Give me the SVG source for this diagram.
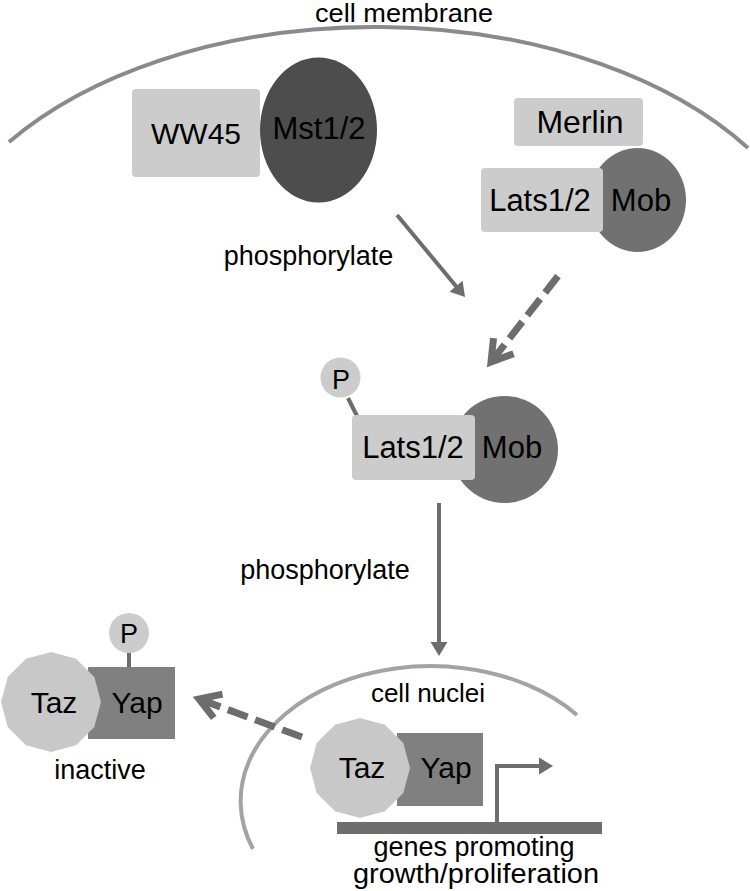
<svg xmlns="http://www.w3.org/2000/svg" xmlns:xlink="http://www.w3.org/1999/xlink" width="750" height="891" viewBox="0 0 750 891">
<style>
  text { font-family: "Liberation Sans", Arial, sans-serif; fill: #000; text-anchor: middle; }
  .big { font-size: 31px; }
  .lbl { font-size: 27px; }
  .light { fill: #cccccc; }
  .mst { fill: #4d4d4d; }
  .mob { fill: #717171; }
  .yap { fill: #808080; }
  .taz { fill: #c8c8c8; }
  .stick { stroke: #6d6d6d; stroke-width: 4; fill: none; }
  .solid { stroke: #6d6d6d; stroke-width: 4; fill: none; marker-end: url(#ah); }
  .dashed { stroke: #6d6d6d; stroke-width: 7; fill: none; stroke-dasharray: 21 8; marker-end: url(#chev); }
  .membrane { stroke: #8a8a8a; stroke-width: 4; fill: none; }
  .nucleus { stroke: #a3a3a3; stroke-width: 4; fill: none; }
</style>
<defs>
  <marker id="ah" markerUnits="userSpaceOnUse" viewBox="0 0 14 17" markerWidth="14" markerHeight="17" refX="1" refY="8.5" orient="auto" overflow="visible">
    <path d="M0,0 L14,8.5 L0,17 z" fill="#6d6d6d"/>
  </marker>
  <marker id="chev" markerUnits="userSpaceOnUse" viewBox="0 0 32 40" markerWidth="32" markerHeight="40" refX="24.4" refY="20" orient="auto" overflow="visible">
    <path d="M4,7.3 L24.4,20 L4,32.7" fill="none" stroke="#6d6d6d" stroke-width="7"/>
  </marker>
  <polygon id="dodeca" points="50,0 43.3,25 25,43.3 0,50 -25,43.3 -43.3,25 -50,0 -43.3,-25 -25,-43.3 0,-50 25,-43.3 43.3,-25"/>
</defs>

<g id="cell-membrane">
  <path class="membrane" d="M9,142 A450,275 0 0 1 748,148"/>
  <text x="404" y="22" style="font-size:25px" textLength="178" lengthAdjust="spacingAndGlyphs">cell membrane</text>
</g>

<g id="ww45-mst">
  <rect class="light" x="132" y="89" width="128" height="88" rx="4"/>
  <ellipse class="mst" cx="318.5" cy="130" rx="58.5" ry="72.5"/>
  <text class="big" x="196" y="144" style="font-size:30px">WW45</text>
  <text class="big" x="319" y="139">Mst1/2</text>
</g>

<g id="merlin">
  <rect class="light" x="514" y="98" width="129" height="48" rx="4"/>
  <text class="big" x="580" y="133" style="font-size:32px">Merlin</text>
</g>

<g id="lats-mob-top">
  <ellipse class="mob" cx="637.5" cy="200" rx="48.5" ry="52"/>
  <rect class="light" x="481" y="168" width="122" height="64" rx="4"/>
  <text class="big" x="540" y="211">Lats1/2</text>
  <text class="big" x="641" y="211">Mob</text>
</g>

<g id="lats-mob-p">
  <line class="stick" x1="348" y1="398" x2="357" y2="416"/>
  <circle class="light" cx="340.5" cy="377.5" r="20"/>
  <text class="lbl" x="341" y="389">P</text>
  <circle class="mob" cx="504.5" cy="449.5" r="53.5"/>
  <rect class="light" x="352" y="415" width="123" height="65" rx="4"/>
  <text class="big" x="413" y="458">Lats1/2</text>
  <text class="big" x="512" y="458">Mob</text>
</g>

<g id="taz-yap-inactive">
  <line class="stick" x1="129" y1="652" x2="129" y2="668"/>
  <circle class="light" cx="129" cy="633" r="20"/>
  <text class="lbl" x="129" y="643">P</text>
  <rect class="yap" x="88" y="667" width="87" height="72"/>
  <use xlink:href="#dodeca" class="taz" transform="translate(51,702)"/>
  <text class="big" x="54" y="713" style="font-size:30px">Taz</text>
  <text class="big" x="137" y="713" style="font-size:30px">Yap</text>
  <text class="lbl" x="100" y="779">inactive</text>
</g>

<g id="cell-nuclei">
  <path class="nucleus" d="M253,849 A190,135 0 0 1 577,715"/>
  <text class="lbl" x="428" y="702" style="font-size:26px">cell nuclei</text>
</g>

<g id="taz-yap-nucleus">
  <rect class="yap" x="397" y="733" width="86" height="73"/>
  <use xlink:href="#dodeca" class="taz" transform="translate(360,768)"/>
  <text class="big" x="362" y="778" style="font-size:30px">Taz</text>
  <text class="big" x="446" y="778" style="font-size:30px">Yap</text>
</g>

<g id="genes">
  <rect x="337" y="822" width="265" height="12" fill="#6d6d6d"/>
  <text class="lbl" x="474" y="856">genes promoting</text>
  <text class="lbl" x="476" y="883" textLength="246" lengthAdjust="spacingAndGlyphs">growth/proliferation</text>
</g>

<g id="connectors">
  <line class="solid" x1="397" y1="215" x2="456.7" y2="287"/>
  <text class="lbl" x="308.5" y="265">phosphorylate</text>
  <line class="dashed" x1="558" y1="276" x2="491" y2="362"/>
  <line class="solid" x1="439" y1="503" x2="439" y2="643"/>
  <text class="lbl" x="325" y="579">phosphorylate</text>
  <line class="dashed" x1="302" y1="737" x2="199" y2="699"/>
  <path class="solid" d="M497,822 V766 H540"/>
</g>
</svg>
